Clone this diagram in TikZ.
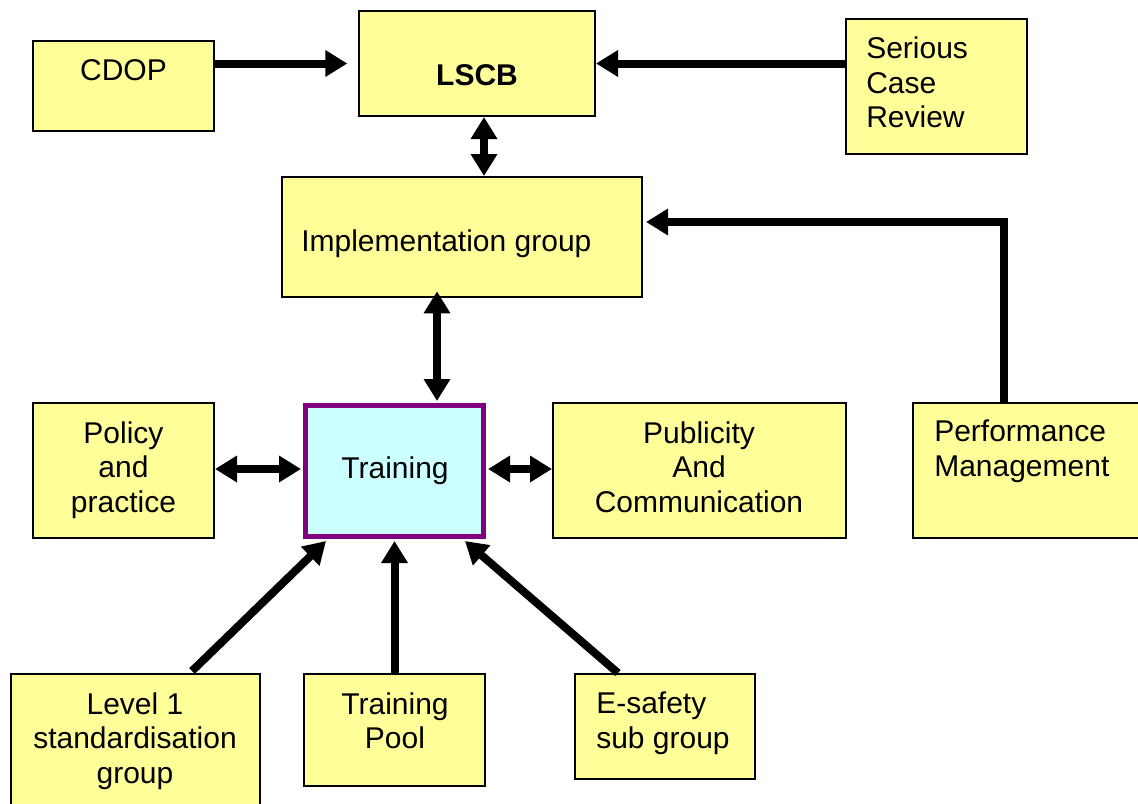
\documentclass[tikz,border=0pt]{standalone}
\usepackage{fontspec}
\setmainfont{Liberation Sans}
\usetikzlibrary{arrows.meta,calc}
\definecolor{boxyellow}{HTML}{FFFF99}
\definecolor{boxcyan}{HTML}{CCFFFF}
\definecolor{trainpurple}{HTML}{800080}
\begin{document}
\begin{tikzpicture}[x=0.75pt,y=-0.75pt,
  box/.style={draw=black, line width=1.5pt, fill=boxyellow, inner sep=0pt},
  trainbox/.style={draw=trainpurple, line width=3.75pt, fill=boxcyan, inner sep=0pt},
  txt/.style={inner sep=0pt, font=\fontsize{22.5pt}{26pt}\selectfont},
  arr/.style={line width=6pt, -{Triangle[length=16.5pt,width=19pt]}},
  darr/.style={line width=6pt, {Triangle[length=16.5pt,width=19pt]}-{Triangle[length=16.5pt,width=19pt]}}]
\useasboundingbox (0,0) rectangle (1138,803);
% boxes
\node[box, minimum width=181*0.75pt, minimum height=90*0.75pt] (cdop) at (123.5,86) {};
\node[box, minimum width=236*0.75pt, minimum height=105*0.75pt] (lscb) at (477,63.5) {};
\node[box, minimum width=181*0.75pt, minimum height=135*0.75pt] (scr) at (936.5,86.5) {};
\node[box, minimum width=360*0.75pt, minimum height=120*0.75pt] (impl) at (462,237) {};
\node[box, minimum width=181*0.75pt, minimum height=135*0.75pt] (pol) at (123.5,470.5) {};
\node[trainbox, minimum width=178*0.75pt, minimum height=131*0.75pt] (train) at (394.5,471) {};
\node[box, minimum width=293*0.75pt, minimum height=135*0.75pt] (pub) at (699.5,470.5) {};
\node[box, minimum width=240*0.75pt, minimum height=135*0.75pt] (perf) at (1033,470.5) {};
\node[box, minimum width=249*0.75pt, minimum height=140*0.75pt] (lev) at (135.5,744) {};
\node[box, minimum width=181*0.75pt, minimum height=112*0.75pt] (pool) at (394.5,730) {};
\node[box, minimum width=180*0.75pt, minimum height=105*0.75pt] (esa) at (665,726.5) {};
% texts
\node[txt, anchor=north] (cdopT) at (123.5,59) {CDOP};
\node[txt, anchor=north, font=\fontsize{22.5pt}{26pt}\selectfont\bfseries] (lscbT) at (477,64) {LSCB};
\node[txt, anchor=north west, align=left] (scrT) at (866,36.5) {Serious\\Case\\Review};
\node[txt, anchor=north west] (implT) at (301,229) {Implementation group};
\node[txt, anchor=north, align=center] (polT) at (123.5,421) {Policy\\and\\practice};
\node[txt, anchor=north] (trainT) at (395,456) {Training};
\node[txt, anchor=north, align=center] (pubT) at (699,421) {Publicity\\And\\Communication};
\node[txt, anchor=north west, align=left] (perfT) at (934,420) {Performance\\Management};
\node[txt, anchor=north, align=center] (levT) at (135,692) {Level 1\\standardisation\\group};
\node[txt, anchor=north, align=center] (poolT) at (395,692) {Training\\Pool};
\node[txt, anchor=north west, align=left] (esaT) at (596,692) {E-safety\\sub group};
% connectors
\draw[arr, shorten >=8pt] (cdop.east |- lscb.west) -- (lscb.west);
\draw[arr] (scr.west |- lscb.east) -- (lscb.east);
\draw[darr] ($(lscb.south)+(7,0)$) -- ($(impl.north)+(22,0)$);
\draw[arr] ($(perf.north)+(-29,0)$) |- ($(impl.east)+(3,-15)$);
\draw[darr, shorten <=-5pt] ($(impl.south)+(-25,0)$) -- ($(train.north)+(42.5,-2)$);
\draw[darr] (pol.east |- 0,469) -- ($(train.west |- 0,469)+(-2,0)$);
\draw[darr] ($(train.east |- 0,469)+(2,0)$) -- (pub.west |- 0,469);
\draw[arr] ($(lev.north)+(56.5,-2)$) -- ($(train.south)+(-68.5,2)$);
\draw[arr] (pool.north) -- ($(train.south)+(0,2)$);
\draw[arr] ($(esa.north)+(-47,0)$) -- ($(train.south)+(70.5,2)$);
\end{tikzpicture}
\end{document}
